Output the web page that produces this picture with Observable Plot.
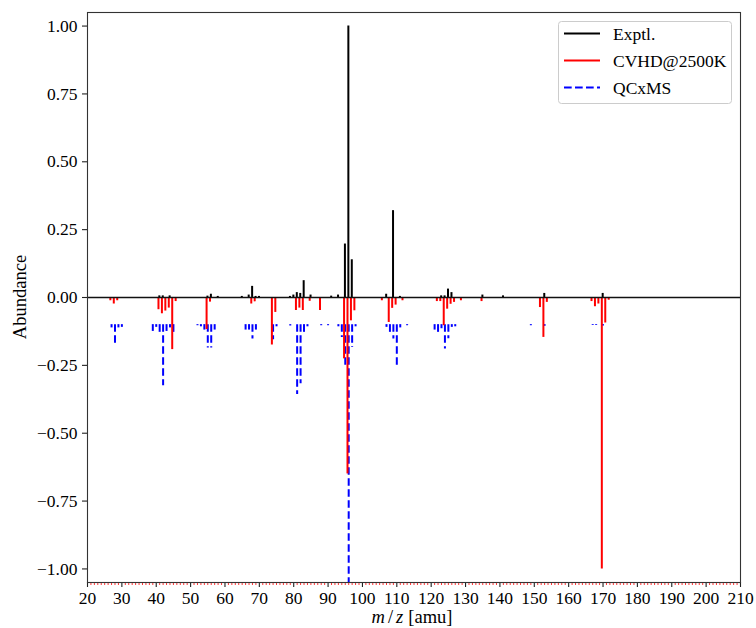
<!DOCTYPE html>
<html><head><meta charset="utf-8">
<script src="https://cdn.jsdelivr.net/npm/d3@7"></script>
<script src="https://cdn.jsdelivr.net/npm/@observablehq/plot@0.6"></script>
<style>body{margin:0;background:#fff}#chart{width:756px;height:628px}</style>
</head><body><div id="chart"></div>
<script>
// Experimental spectrum (plotted upward)
const exptlMz = [41,42,44, 55,56,58, 65,67,68,69,70, 79,80,81,82,83,85, 91,93, 95,96,97, 107,109,111, 123,124,125,126, 135,141, 153,170];
const exptlAb = [0.006,0.006,0.006, 0.005,0.012,0.004, 0.004,0.009,0.041,0.004,0.004, 0.004,0.009,0.018,0.015,0.062,0.009, 0.005,0.009, 0.197,1.0,0.139, 0.012,0.32,0.004, 0.006,0.006,0.031,0.018, 0.009,0.006, 0.015,0.015];
// CVHD@2500K (plotted downward from 0)
const cvhdMz = [27,28,29, 41,42,43,44,45,46, 55,56, 68,69, 74,75, 81,82,83,85,88, 95,96,97,98, 106,108,109,110,112, 122,123,124,125,126,127,129, 135, 152,153,154, 167,168,169,170,171,172];
const cvhdAb = [0.012,0.024,0.012, 0.045,0.06,0.05,0.039,0.192,0.015, 0.118,0.017, 0.024,0.016, 0.175,0.055, 0.048,0.039,0.048,0.014,0.048, 0.226,0.65,0.086,0.049, 0.012,0.092,0.04,0.028,0.012, 0.015,0.015,0.104,0.043,0.025,0.018,0.012, 0.015, 0.037,0.147,0.018, 0.015,0.034,0.024,1.0,0.094,0.01];
// QCxMS (plotted downward from an offset of -0.1)
const qcxmsMz = [27,28,29,30, 39,40,41,42,43,44,45, 52,53,54,55,56,57, 66,67,68,69, 74,75, 79,81,82,83,84, 88,90, 93,94,95,96,97,98, 107,108,109,110,111,113, 121,122,123,124,125,126,127, 149,153, 167,168,170];
const qcxmsAb = [0.012,0.074,0.012,0.01, 0.025,0.01,0.035,0.225,0.025,0.012,0.035, 0.004,0.008,0.02,0.086,0.086,0.02, 0.02,0.02,0.053,0.02, 0.056,0.008, 0.005,0.257,0.218,0.035,0.008, 0.004,0.004, 0.008,0.047,0.15,1.0,0.084,0.008, 0.01,0.03,0.053,0.158,0.012,0.004, 0.02,0.037,0.015,0.09,0.052,0.01,0.008, 0.004,0.006, 0.003,0.003,0.005];
const qcxmsOffset = -0.1;   // baseline of the QCxMS stick spectrum
const cvhdShift = -0.35;    // small horizontal dodge of the CVHD sticks (amu)
const exptlShift = -0.1;

const xTicks = [20,30,40,50,60,70,80,90,100,110,120,130,140,150,160,170,180,190,200,210];
const yTicks = [-1.0,-0.75,-0.5,-0.25,0,0.25,0.5,0.75,1.0];
const seriesNames = ["Exptl.", "CVHD@2500K", "QCxMS"];
const seriesColors = ["black", "red", "blue"];
const xLabelMath = ["m", "/", "z"];
const xLabelUnit = "[amu]";
const yLabel = "Abundance";

const minorTicks = d3.range(20, 211).filter(v => v % 10 !== 0);
const exptl = exptlMz.map((mz, i) => ({mz, v: exptlAb[i]}));
const cvhd = cvhdMz.map((mz, i) => ({mz, v: cvhdAb[i]}));
const qcxms = qcxmsMz.map((mz, i) => ({mz, v: qcxmsAb[i]}));
const fmt = d3.format(".2f");
const FONT = "'Liberation Serif', 'DejaVu Serif', serif";
const FS = "17.5px";

const plot = Plot.plot({
  width: 756, height: 628,
  marginLeft: 87, marginRight: 16, marginTop: 12, marginBottom: 46,
  style: {fontFamily: FONT, fontSize: FS, background: "white", color: "black", overflow: "visible"},
  x: {domain: [20, 210]},
  y: {domain: [-1.05, 1.05]},
  marks: [
    Plot.ruleX(qcxms, {x: "mz", y1: () => qcxmsOffset, y2: d => qcxmsOffset - d.v, stroke: seriesColors[2], strokeWidth: 2, strokeDasharray: "7.7,3.3", clip: true}),
    Plot.ruleX(cvhd, {x: d => d.mz + cvhdShift, y1: () => 0, y2: d => -d.v, stroke: seriesColors[1], strokeWidth: 2}),
    Plot.ruleX(exptl, {x: d => d.mz + exptlShift, y1: () => 0, y2: "v", stroke: seriesColors[0], strokeWidth: 2}),
    Plot.ruleY([0], {stroke: "#111", strokeWidth: 1.5}),
    Plot.axisY(yTicks, {tickSize: 5, tickPadding: 5, tickFormat: fmt, label: null, stroke: "#222", strokeWidth: 1.1}),
    Plot.axisX(xTicks, {tickSize: 5, tickPadding: 4, tickFormat: d => String(d), label: null, stroke: "#222", strokeWidth: 1.1}),
    Plot.axisX(minorTicks, {tickSize: 3, tickFormat: () => "", label: null, stroke: "red", strokeWidth: 0.8}),
    Plot.frame({stroke: "#333", strokeWidth: 1.1})
  ]
});
document.getElementById("chart").appendChild(plot);

const svg = d3.select(plot);
// y label
svg.append("text")
  .attr("transform", "translate(20,297) rotate(-90)")
  .attr("text-anchor", "middle").attr("dy", "0.35em")
  .style("font-family", FONT).style("font-size", "18.5px")
  .text(yLabel);
// x label
const xl = svg.append("text")
  .attr("x", 412).attr("y", 617)
  .attr("text-anchor", "middle").attr("dy", "0.35em")
  .style("font-family", FONT).style("font-size", "18.5px");
xl.append("tspan").style("font-style", "italic").text(xLabelMath[0]);
xl.append("tspan").attr("dx", 3).text(xLabelMath[1]);
xl.append("tspan").attr("dx", 3).style("font-style", "italic").text(xLabelMath[2]);
xl.append("tspan").attr("dx", 5).text(xLabelUnit);

// legend
const lg = svg.append("g");
lg.append("rect").attr("x", 558.5).attr("y", 21.5).attr("width", 173).attr("height", 82)
  .attr("rx", 3).attr("fill", "white").attr("fill-opacity", 0.8).attr("stroke", "#ccc").attr("stroke-width", 1);
const rowsY = [33.5, 60.5, 87.5];
seriesNames.forEach((name, i) => {
  lg.append("line").attr("x1", 564).attr("x2", 600).attr("y1", rowsY[i]).attr("y2", rowsY[i])
    .attr("stroke", seriesColors[i]).attr("stroke-width", 2)
    .attr("stroke-dasharray", i === 2 ? "7.7,3.3" : null);
  lg.append("text").attr("x", 613).attr("y", rowsY[i]).attr("dy", "0.35em")
    .attr("text-anchor", "start")
    .style("font-family", FONT).style("font-size", FS).text(name);
});
</script>
</body></html>
